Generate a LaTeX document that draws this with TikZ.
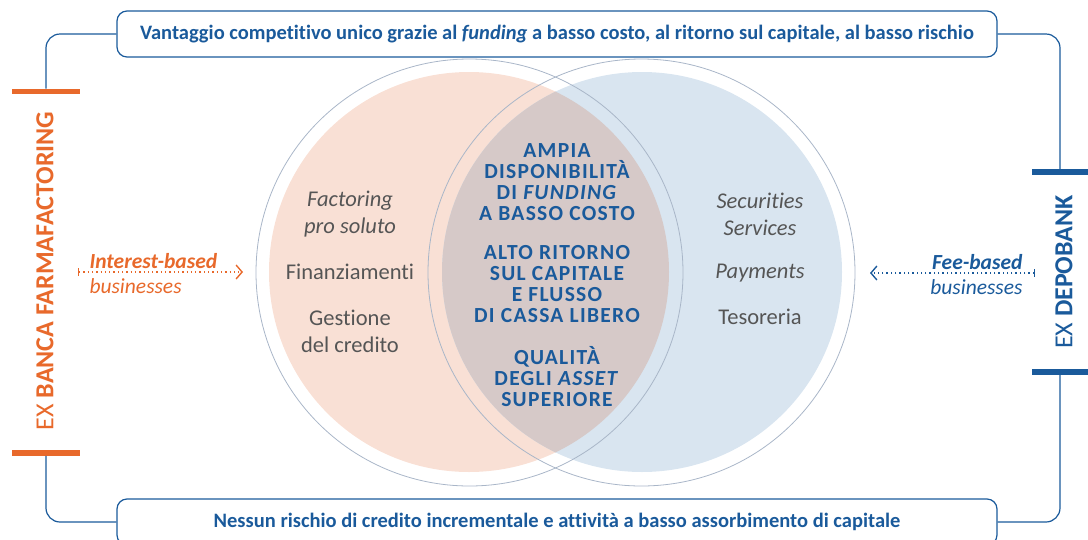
\documentclass[tikz,border=0pt]{standalone}
\usepackage{fontspec}
\setmainfont{Carlito}[Ligatures=CommonOff]
\usepackage{tikz}
\usetikzlibrary{arrows.meta, positioning}
\definecolor{bluedark}{RGB}{26, 90, 155}
\definecolor{orangebf}{RGB}{232, 105, 43}
\definecolor{peachfill}{RGB}{249, 224, 213}
\definecolor{bluefill}{RGB}{217, 229, 240}
\definecolor{lensfill}{RGB}{214, 201, 200}
\definecolor{ringgray}{RGB}{169, 182, 200}
\definecolor{textgray}{RGB}{85, 85, 85}

\begin{document}
\begin{tikzpicture}[
    x=1pt, y=-1pt,
    banner/.style={draw=bluedark, line width=1.2pt, rounded corners=10pt, minimum width=880pt, minimum height=46pt, text=bluedark, font=\fontsize{20.5}{22}\selectfont\bfseries},
    sidebar/.style={fill=#1, minimum width=68pt, minimum height=5.5pt, inner sep=0pt},
    link/.style={draw=bluedark, line width=1.2pt, rounded corners=14pt},
    ring/.style={draw=ringgray, line width=0.8pt},
    core/.style={text=bluedark, align=center, font=\fontsize{21.5}{21}\selectfont\bfseries\addfontfeature{LetterSpace=6}},
    item/.style={text=textgray, align=center, font=\fontsize{22.5}{27}\selectfont},
    sidelabel/.style={rotate=90, font=\fontsize{26}{28}\selectfont},
    tag/.style={font=\fontsize{21.5}{25}\selectfont\itshape},
    flow/.style={dash pattern=on 1.3pt off 3pt, line width=1.4pt, {Bar[width=8pt,line width=1.4pt]}-{Straight Barb[length=6pt,width=14pt,line width=1.4pt]}}
]
    \useasboundingbox (0,0) rectangle (1088,539);

    % Venn circles
    \fill[peachfill] (469,272) circle (200);
    \fill[bluefill] (642,272) circle (200);
    \begin{scope}
        \clip (469,272) circle (200);
        \fill[lensfill] (642,272) circle (200);
    \end{scope}
    \draw[ring] (469.5,272.5) circle (213.5);
    \draw[ring] (641.5,272.5) circle (213.5);

    % Banners
    \node[banner] (topbox) at (557,34) {Vantaggio competitivo unico grazie al \textit{funding} a basso costo, al ritorno sul capitale, al basso rischio};
    \node[banner] (botbox) at (557,522) {Nessun rischio di credito incrementale e attività a basso assorbimento di capitale};

    % Side bars
    \node[sidebar=orangebf] (barLtop) at (46,91.5) {};
    \node[sidebar=orangebf] (barLbot) at (46,453) {};
    \node[sidebar=bluedark, minimum width=56pt] (barRtop) at (1060,172) {};
    \node[sidebar=bluedark, minimum width=56pt] (barRbot) at (1060,372) {};

    \node[sidelabel, text=orangebf] (exbff) at (45,271) {EX \textbf{BANCA FARMAFACTORING}};
    \node[sidelabel, text=bluedark] (exdepo) at (1064,272) {EX \textbf{DEPOBANK}};

    % Links
    \draw[link] (topbox.west) -| (barLtop.north);
    \draw[link] (barLbot.south) |- (botbox.west);
    \draw[link] (topbox.east) -| (barRtop.north);
    \draw[link] (barRbot.south) |- (botbox.east);

    % Left circle
    \node[item, font=\fontsize{22.5}{27}\selectfont\itshape] (factoring) at (350,214) {Factoring\\pro soluto};
    \node[item] (finanz) at (350,272) {Finanziamenti};
    \node[item] (gestione) at (350,331) {Gestione\\del credito};

    % Right circle
    \node[item, font=\fontsize{22.5}{27}\selectfont\itshape] (securities) at (760,214) {Securities\\Services};
    \node[item, font=\fontsize{22.5}{27}\selectfont\itshape] (payments) at (760,273) {Payments};
    \node[item] (tesoreria) at (760,317) {Tesoreria};

    % Overlap
    \node[core] (funding) at (557,182) {AMPIA\\DISPONIBILITÀ\\DI \textit{FUNDING}\\A BASSO COSTO};
    \node[core] (ritorno) at (557,284) {ALTO RITORNO\\SUL CAPITALE\\E FLUSSO\\DI CASSA LIBERO};
    \node[core] (asset) at (557,377) {QUALITÀ\\DEGLI \textit{ASSET}\\SUPERIORE};

    % Business arrows
    \coordinate (inL) at (78,272);
    \coordinate (outL) at (243,272);
    \coordinate (inR) at (1035,273);
    \coordinate (outR) at (870,273);
    \draw[flow, orangebf] (inL) -- (outL);
    \draw[flow, bluedark] (inR) -- (outR);
    \node[tag, text=orangebf, align=left, anchor=west] (interest) at (86,274) {\textbf{Interest-based}\\businesses};
    \node[tag, text=bluedark, align=right, anchor=east] (fee) at (1026,275) {\textbf{Fee-based}\\businesses};
\end{tikzpicture}
\end{document}
